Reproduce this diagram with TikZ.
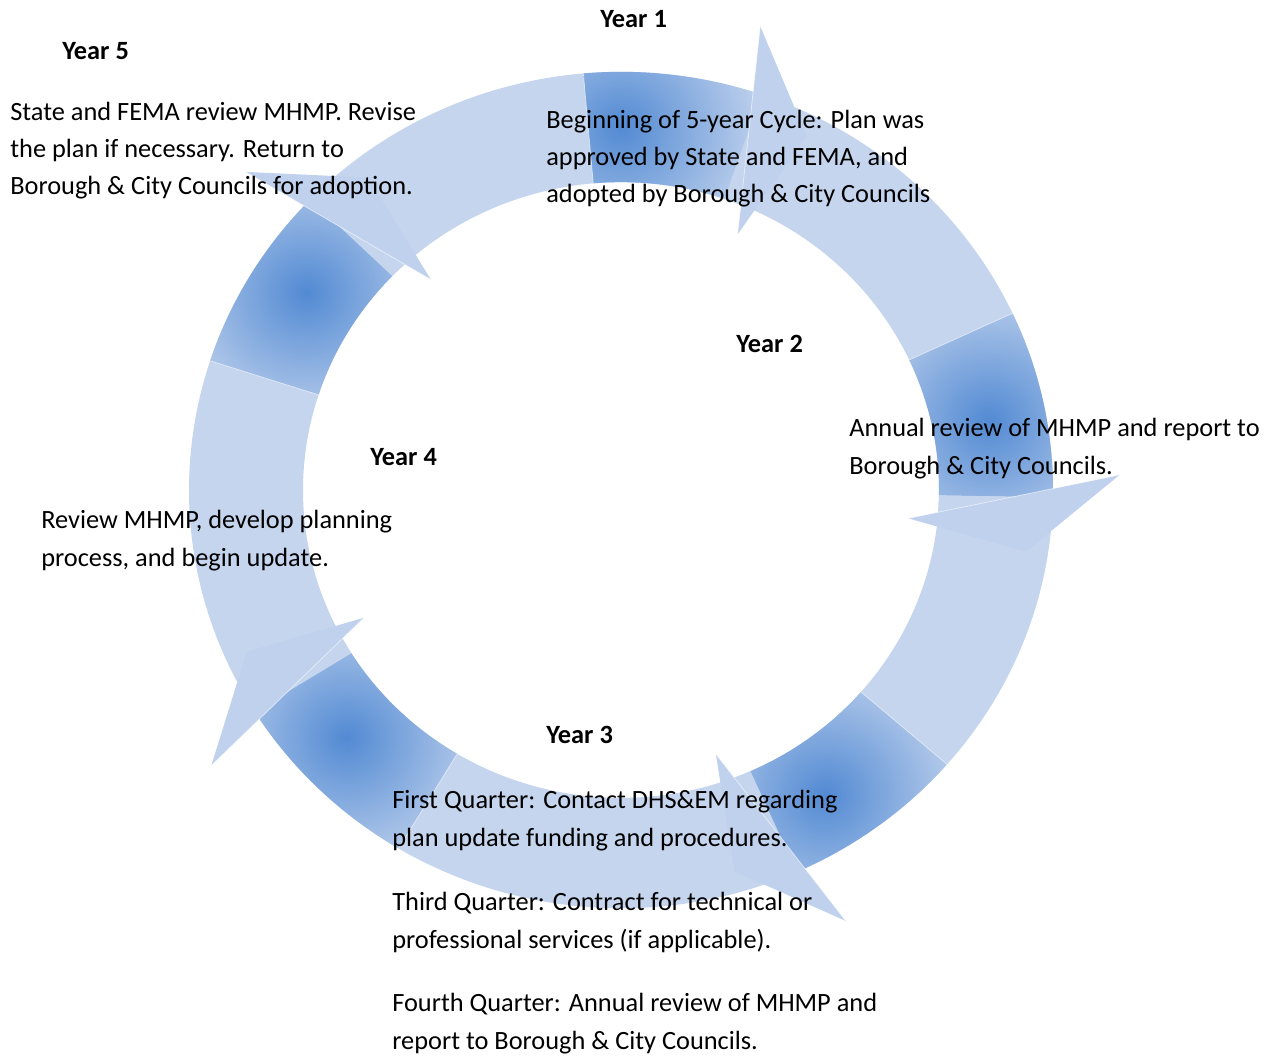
\documentclass[tikz,border=0pt]{standalone}
\usepackage{fontspec}
\setmainfont{Carlito}
\usetikzlibrary{positioning,calc}

\definecolor{ringblue}{RGB}{197,213,238}
\definecolor{blobblue}{RGB}{82,138,211}
\definecolor{headblue}{RGB}{192,209,237}

\def\rin{318}
\def\rout{432}
\def\rmid{375}

% one year of the ring: tail, shaft start, head base, dark spot
\newcommand{\yearband}[4]{%
  \fill[ringblue] (#1:\rout) arc[start angle=#1, end angle=#3-3.5, radius=\rout]
    -- ({#3-3.5}:\rin) arc[start angle=#3-3.5, end angle=#1, radius=\rin] -- cycle;
  \begin{scope}
    \clip (#2:\rout) arc[start angle=#2, end angle=#3, radius=\rout]
      -- (#3:\rin) arc[start angle=#3, end angle=#2, radius=\rin] -- cycle;
    \shade[inner color=blobblue, outer color=ringblue] (#4:\rmid) circle[radius=150];
  \end{scope}
  \draw[white, opacity=0.6] (#2:\rin) -- (#2:\rout);
}
% arrow head at head base, square to the shaft
\newcommand{\yearhead}[1]{%
  \coordinate (hb) at (#1:393);
  \fill[headblue] ($(hb)+({#1+13}:-108)$) -- ($(hb)+({#1-77}:58)$)
    -- ($(hb)+({#1+13}:108)$) -- cycle;
  \draw[white, opacity=0.6] ($(hb)+({#1+13}:-108)$) -- ($(hb)+({#1+13}:108)$);
}

\begin{document}
\begin{tikzpicture}[x=0.02cm, y=0.02cm,
    yeartitle/.style={anchor=base west, inner sep=0pt,
      font=\bfseries\fontsize{15}{21.3}\selectfont},
    yeartext/.style={anchor=base west, inner sep=0pt, align=left,
      font=\fontsize{15}{21.3}\selectfont}]
\useasboundingbox (-621,-565) rectangle (659,490);

\begin{scope}[yscale=0.968]
\yearband{136}{95}{71}{90}
\yearband{71}{25}{-1}{11}
\yearband{-1}{-41}{-66}{-57}
\yearband{-66}{-121}{-148}{-137}
\yearband{212}{162}{136}{147}

\yearhead{71}
\yearhead{-1}
\yearhead{-66}
\yearhead{-148}
\yearhead{136}
\end{scope}

\node[yeartitle] (y1) at (-21,462) {Year 1};
\node[yeartext] (y1t) at (-75,287) {Beginning of 5-year Cycle: Plan was\\
  approved by State and FEMA, and\\ adopted by Borough \& City Councils};

\node[yeartitle] (y2) at (115,138) {Year 2};
\node[yeartext] (y2t) at (228,16) {Annual review of MHMP and report to\\
  Borough \& City Councils.};

\node[yeartitle] (y3) at (-75,-253) {Year 3};
\node[yeartext] (y3q1) at (-229,-356) {First Quarter: Contact DHS\&EM regarding\\
  plan update funding and procedures.};
\node[yeartext] (y3q3) at (-229,-458) {Third Quarter: Contract for technical or\\
  professional services (if applicable).};
\node[yeartext] (y3q4) at (-229,-559) {Fourth Quarter: Annual review of MHMP and\\
  report to Borough \& City Councils.};

\node[yeartitle] (y4) at (-251,25) {Year 4};
\node[yeartext] (y4t) at (-580,-76) {Review MHMP, develop planning\\
  process, and begin update.};

\node[yeartitle] (y5) at (-559,430) {Year 5};
\node[yeartext] (y5t) at (-611,295) {State and FEMA review MHMP. Revise\\
  the plan if necessary. Return to\\ Borough \& City Councils for adoption.};

\end{tikzpicture}
\end{document}
